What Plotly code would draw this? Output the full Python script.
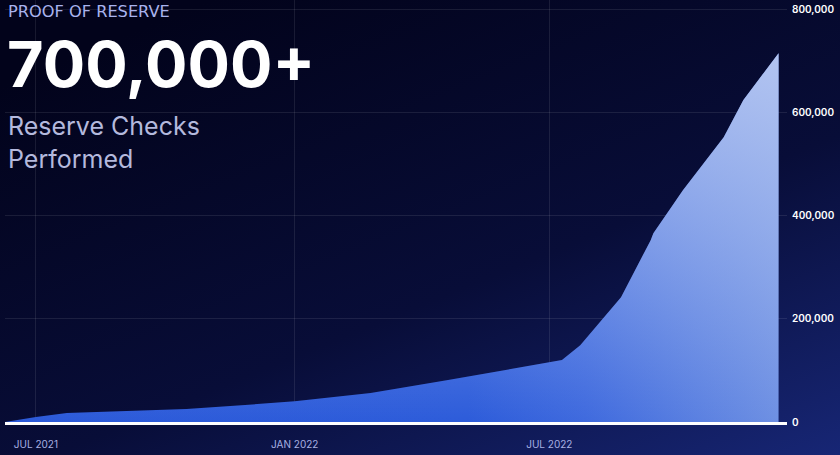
import base64
import plotly.graph_objects as go

# ---- data ----
dates = ["2021-06-09", "2021-07-01", "2021-07-23", "2021-10-16", "2022-01-01",
         "2022-02-24", "2022-04-19", "2022-06-05", "2022-07-10", "2022-07-23",
         "2022-08-06", "2022-08-21", "2022-09-11", "2022-09-13", "2022-10-04",
         "2022-11-02", "2022-11-16", "2022-12-11"]
checks = [0, 9700, 17400, 25000, 40000, 56000, 81000, 103000, 120000, 149000,
          194000, 242000, 352000, 366000, 449000, 552000, 624000, 715000]
x_tick_vals = ["2021-07-01", "2022-01-01", "2022-07-01"]
x_tick_text = ["JUL 2021", "JAN 2022", "JUL 2022"]
y_tick_vals = [0, 200000, 400000, 600000, 800000]

W, H = 840, 455
ML, MR, MT, MB = 5, 53, 0, 33
PW, PH = W - ML - MR, H - MT - MB


def px_to_paper_x(px):
    return (px - ML) / PW


def px_to_paper_y(py):
    return (H - MB - py) / PH


svg = f'''<svg xmlns="http://www.w3.org/2000/svg" width="{W}" height="{H}" preserveAspectRatio="none">
<defs><linearGradient id="g" x1="0.25" y1="0" x2="1" y2="1">
<stop offset="0" stop-color="#02031b"/>
<stop offset="0.55" stop-color="#080d38"/>
<stop offset="1" stop-color="#172675"/>
</linearGradient></defs>
<rect width="{W}" height="{H}" fill="url(#g)"/></svg>'''
bg_uri = "data:image/svg+xml;base64," + base64.b64encode(svg.encode()).decode()

fig = go.Figure()
fig.add_trace(go.Scatter(
    x=dates, y=checks, mode="lines", line=dict(width=0, color="#2c5ad9"),
    fill="tozeroy",
    fillgradient=dict(type="horizontal",
                      colorscale=[[0, "#2c5ad9"], [0.6, "#2d5cda"],
                                  [0.75, "#3f6ade"], [1, "#6e90e3"]]),
    hoverinfo="skip"))
fig.add_trace(go.Scatter(
    x=dates, y=checks, mode="lines", line=dict(width=0, color="rgba(0,0,0,0)"),
    fill="tozeroy",
    fillgradient=dict(type="vertical", start=0, stop=715000,
                      colorscale=[[0, "rgba(195,210,245,0)"],
                                  [1, "rgba(190,205,243,0.85)"]]),
    hoverinfo="skip"))

fig.add_layout_image(dict(source=bg_uri, xref="paper", yref="paper",
                          x=px_to_paper_x(0), y=px_to_paper_y(0),
                          sizex=W / PW, sizey=H / PH, sizing="stretch",
                          xanchor="left", yanchor="top", layer="below"))

fig.add_annotation(text="PROOF OF RESERVE", xref="paper", yref="paper",
                   x=px_to_paper_x(6), y=px_to_paper_y(12), xanchor="left",
                   yanchor="middle", showarrow=False,
                   font=dict(family="DejaVu Sans", size=16.2, color="#a9b3ee"))
fig.add_annotation(text="<b>700,000+</b>", xref="paper", yref="paper",
                   x=px_to_paper_x(5), y=px_to_paper_y(64), xanchor="left",
                   yanchor="middle", showarrow=False,
                   font=dict(family="Inter", size=63, color="#ffffff"))
fig.add_annotation(text="Reserve Checks<br>Performed", xref="paper", yref="paper",
                   x=px_to_paper_x(6), y=px_to_paper_y(142), xanchor="left",
                   yanchor="middle", showarrow=False, align="left",
                   font=dict(family="Inter", size=25, color="#b4b9dd"))

fig.update_layout(
    width=W, height=H, margin=dict(l=ML, r=MR, t=MT, b=MB, autoexpand=False),
    paper_bgcolor="#070b33", plot_bgcolor="rgba(0,0,0,0)",
    showlegend=False,
    xaxis=dict(type="date", range=["2021-06-09", "2022-12-17"],
               tickvals=x_tick_vals, ticktext=x_tick_text,
               showgrid=True, gridcolor="rgba(255,255,255,0.09)", gridwidth=1,
               showline=True, linecolor="#ffffff", linewidth=3,
               zeroline=False, ticks="", ticklabelstandoff=11,
               tickfont=dict(family="Inter", size=10, color="#a7b0e2")),
    yaxis=dict(side="right", range=[0, 818000], tickvals=y_tick_vals,
               tickformat=",d", showgrid=True,
               gridcolor="rgba(255,255,255,0.09)", gridwidth=1,
               zeroline=False, showline=False, ticks="", ticklabelstandoff=4,
               tickfont=dict(family="Inter", size=10, color="#ffffff",
                             weight=600)),
)

fig.write_html("out.html", config={"displayModeBar": False},
               post_script="document.body.style.margin='0';document.body.style.overflow='hidden';")
